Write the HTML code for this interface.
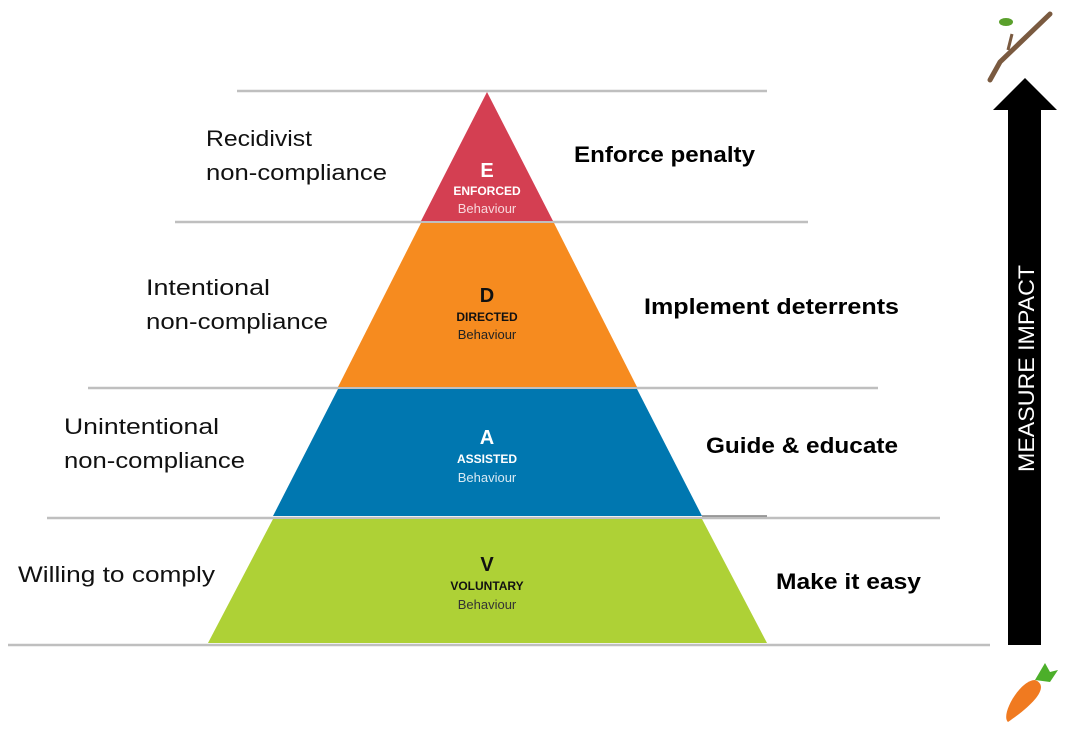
<!DOCTYPE html>
<html><head><style>body{margin:0;background:#fff}</style></head><body>
<svg width="1069" height="740" xmlns="http://www.w3.org/2000/svg" font-family="'Liberation Sans',sans-serif">
<g stroke="#bfbfbf" stroke-width="2.5">
<line x1="237" y1="91" x2="767" y2="91"/>
<line x1="175" y1="222" x2="808" y2="222"/>
<line x1="88" y1="388" x2="878" y2="388"/>
<line x1="47" y1="518" x2="940" y2="518"/>
<line x1="8" y1="645" x2="990" y2="645"/>
</g>
<polygon points="487,92 553,221 421,221" fill="#d43f52"/>
<polygon points="421,223 554,223 637,387 338,387" fill="#f68b1f"/>
<polygon points="338,389 637,389 702,516 273,516" fill="#0077b0"/>
<polygon points="273,519 702,519 767,643 208,643" fill="#aed136"/>
<line x1="702" y1="516" x2="767" y2="516" stroke="#808080" stroke-width="1.5"/>
<g text-anchor="middle" font-weight="bold">
<text x="487" y="177" fill="#fff" font-size="20">E</text>
<text x="487" y="195" fill="#fff" font-size="12">ENFORCED</text>
<text x="487" y="302" fill="#111" font-size="20">D</text>
<text x="487" y="321" fill="#111" font-size="12">DIRECTED</text>
<text x="487" y="444" fill="#fff" font-size="20">A</text>
<text x="487" y="463" fill="#fff" font-size="12">ASSISTED</text>
<text x="487" y="571" fill="#111" font-size="20">V</text>
<text x="487" y="590" fill="#111" font-size="12">VOLUNTARY</text>
</g>
<g text-anchor="middle" font-size="13">
<text x="487" y="213" fill="#f8d8dc">Behaviour</text>
<text x="487" y="339" fill="#222">Behaviour</text>
<text x="487" y="482" fill="#d8eaf4">Behaviour</text>
<text x="487" y="609" fill="#333">Behaviour</text>
</g>
<g font-size="22" fill="#111" lengthAdjust="spacingAndGlyphs">
<text x="206" y="146" textLength="106" lengthAdjust="spacingAndGlyphs">Recidivist</text>
<text x="206" y="180" textLength="181" lengthAdjust="spacingAndGlyphs">non-compliance</text>
<text x="146" y="295" textLength="124" lengthAdjust="spacingAndGlyphs">Intentional</text>
<text x="146" y="329" textLength="182" lengthAdjust="spacingAndGlyphs">non-compliance</text>
<text x="64" y="434" textLength="155" lengthAdjust="spacingAndGlyphs">Unintentional</text>
<text x="64" y="468" textLength="181" lengthAdjust="spacingAndGlyphs">non-compliance</text>
<text x="18" y="582" textLength="197" lengthAdjust="spacingAndGlyphs">Willing to comply</text>
</g>
<g font-size="22" font-weight="bold" fill="#000">
<text x="574" y="162" textLength="181" lengthAdjust="spacingAndGlyphs">Enforce penalty</text>
<text x="644" y="314" textLength="255" lengthAdjust="spacingAndGlyphs">Implement deterrents</text>
<text x="706" y="453" textLength="192" lengthAdjust="spacingAndGlyphs">Guide &amp; educate</text>
<text x="776" y="589" textLength="145" lengthAdjust="spacingAndGlyphs">Make it easy</text>
</g>
<polygon points="1008,645 1041,645 1041,110 1057,110 1025,78 993,110 1008,110" fill="#000"/>
<text transform="translate(1034,472) rotate(-90)" fill="#fff" font-size="22" textLength="207" lengthAdjust="spacingAndGlyphs">MEASURE IMPACT</text>
<path d="M990,80 L1000,62 L1050,14" stroke="#7a5a40" stroke-width="5" fill="none" stroke-linecap="round"/>
<path d="M1008,50 L1012,34" stroke="#7a5a40" stroke-width="3"/>
<ellipse cx="1006" cy="22" rx="7" ry="4" fill="#5aa02c"/>
<path d="M1008,722 C1000,715 1020,680 1035,680 C1048,685 1040,700 1008,722Z" fill="#f07a20"/>
<path d="M1035,680 L1045,663 L1050,672 L1058,670 L1050,682 Z" fill="#4caf2a"/>
</svg>
</body></html>
